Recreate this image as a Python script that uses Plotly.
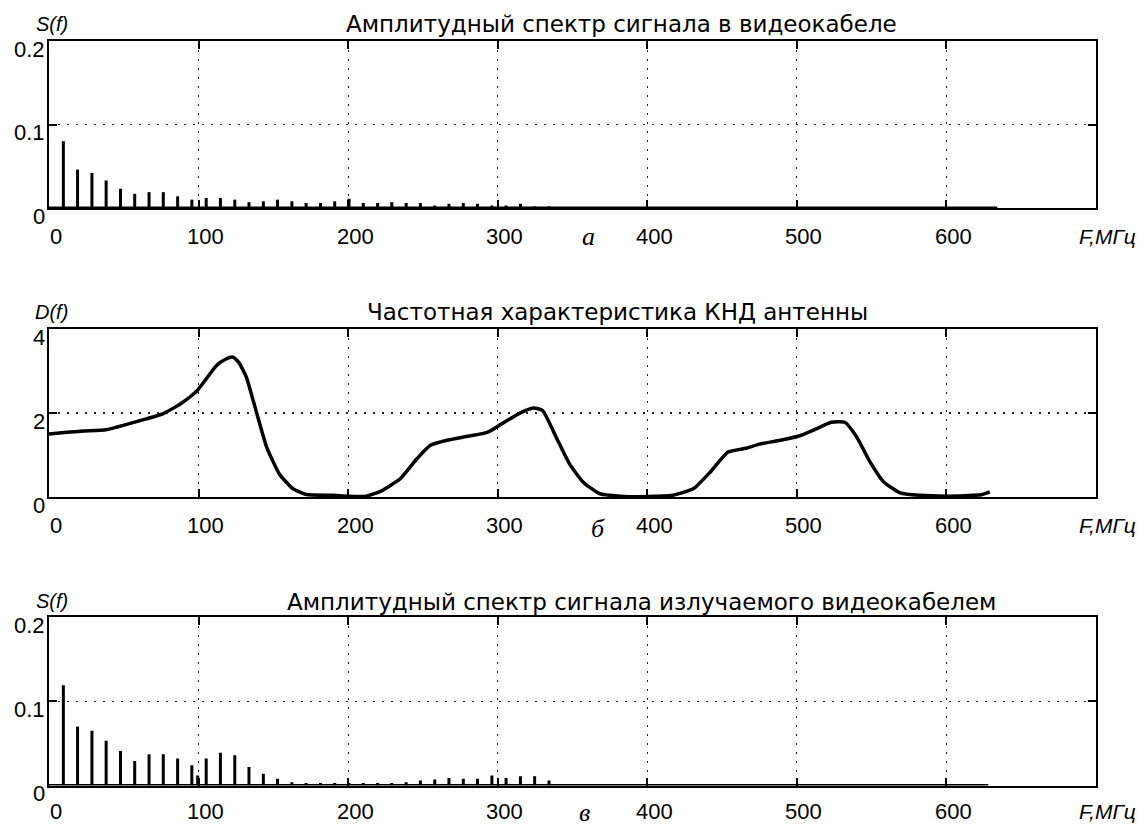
import plotly.graph_objects as go

W, H = 1146, 828

# ---------------- data ----------------
# harmonic frequencies (MHz) of the video signal spectrum
cable_freq = [9.6, 19.1, 28.7, 38.2, 47.8, 57.3, 66.9, 76.4, 86.0, 95.5,
              105.1, 114.6, 124.2, 133.7, 143.3, 152.8, 162.4, 171.9, 181.5, 191.0,
              200.6, 210.1, 219.7, 229.2, 238.8, 248.3, 257.9, 267.4, 277.0, 286.5,
              296.1, 305.6, 315.2, 324.7, 334.3]
cable_amp = [0.080, 0.046, 0.042, 0.033, 0.023, 0.017, 0.019, 0.019, 0.014, 0.010,
             0.012, 0.012, 0.010, 0.007, 0.008, 0.010, 0.008, 0.006, 0.006, 0.008,
             0.011, 0.006, 0.006, 0.007, 0.006, 0.006, 0.003, 0.005, 0.006, 0.005,
             0.003, 0.003, 0.005, 0.002, 0.002]
cable_end = 634

# antenna directivity D(f)
ant_freq = [0, 12, 23, 38, 52, 65, 76, 88, 99, 112, 118, 123, 127, 132, 139, 145.5,
            154, 163, 172, 190, 200, 212, 222, 235, 246, 255, 266, 279, 293, 299,
            310, 318, 324, 330, 339, 348, 357, 368, 382, 400, 417, 431, 442, 454,
            466, 475, 489, 503, 513, 523, 532, 540, 549, 558, 569, 582, 600, 618,
            624, 629]
ant_D = [1.50, 1.54, 1.57, 1.60, 1.73, 1.86, 1.98, 2.22, 2.53, 3.13, 3.28, 3.33,
         3.20, 2.85, 1.98, 1.19, 0.55, 0.20, 0.06, 0.04, 0.02, 0.02, 0.14, 0.44,
         0.91, 1.23, 1.35, 1.44, 1.54, 1.66, 1.90, 2.05, 2.12, 2.06, 1.43, 0.79,
         0.36, 0.08, 0.02, 0.01, 0.04, 0.20, 0.59, 1.07, 1.16, 1.26, 1.35, 1.47,
         1.62, 1.78, 1.78, 1.43, 0.83, 0.36, 0.10, 0.04, 0.02, 0.04, 0.06, 0.12]

# radiated spectrum
rad_freq = [9.6, 19.1, 28.7, 38.2, 47.8, 57.3, 66.9, 76.4, 86.0, 95.5, 99.4,
            105.1, 114.6, 124.2, 133.7, 143.3, 152.8, 162.4, 171.9, 181.5, 191.0,
            200.6, 210.1, 219.7, 229.2, 238.8, 248.3, 257.9, 267.4, 277.0, 286.5,
            296.1, 305.6, 315.2, 324.7, 334.3]
rad_amp = [0.119, 0.070, 0.065, 0.053, 0.041, 0.029, 0.037, 0.037, 0.032, 0.024, 0.012,
           0.032, 0.039, 0.036, 0.022, 0.014, 0.008, 0.004, 0.003, 0.003, 0.003,
           0.003, 0.003, 0.003, 0.003, 0.004, 0.006, 0.007, 0.009, 0.008, 0.008,
           0.012, 0.009, 0.011, 0.011, 0.006]
rad_end = 628

x_ticks = [0, 100, 200, 300, 400, 500, 600]
x_tick_text = ["0", "100", "200", "300", "400", "500", "600"]
s_ticks = [0, 0.1, 0.2]
s_tick_text = ["0", "0.1", "0.2"]
d_ticks = [0, 2, 4]
d_tick_text = ["0", "2", "4"]

titles = ["Амплитудный спектр сигнала в видеокабеле",
          "Частотная характеристика КНД антенны",
          "Амплитудный спектр сигнала излучаемого видеокабелем"]
y_names = ["S(f)", "D(f)", "S(f)"]
letters = ["а", "б", "в"]
x_name = "F,МГц"

# ---------------- figure ----------------
FONT = "Liberation Sans, Arial, sans-serif"
TFONT = "DejaVu Sans, Liberation Sans, sans-serif"
SERIF = "Liberation Serif, Times New Roman, serif"


def stems(freqs, amps):
    xs, ys = [], []
    for f, a in zip(freqs, amps):
        xs += [f, f, None]
        ys += [0, a, None]
    return xs, ys


fig = go.Figure()

xs, ys = stems(cable_freq, cable_amp)
fig.add_trace(go.Scatter(x=xs, y=ys, mode="lines", line=dict(color="black", width=3),
                         xaxis="x", yaxis="y", showlegend=False, hoverinfo="skip"))
fig.add_trace(go.Scatter(x=[0, cable_end], y=[0, 0], mode="lines",
                         line=dict(color="black", width=3), xaxis="x", yaxis="y",
                         showlegend=False, hoverinfo="skip"))

fig.add_trace(go.Scatter(x=ant_freq, y=ant_D, mode="lines",
                         line=dict(color="black", width=3.5, shape="spline", smoothing=0.5),
                         xaxis="x2", yaxis="y2", showlegend=False))

xs, ys = stems(rad_freq, rad_amp)
fig.add_trace(go.Scatter(x=xs, y=ys, mode="lines", line=dict(color="black", width=3),
                         xaxis="x3", yaxis="y3", showlegend=False, hoverinfo="skip"))
fig.add_trace(go.Scatter(x=[0, rad_end], y=[0, 0], mode="lines",
                         line=dict(color="black", width=3), xaxis="x3", yaxis="y3",
                         showlegend=False, hoverinfo="skip"))

# panel geometry in pixels: (top, bottom)
panels = [(41, 208), (329, 497), (617, 785.5)]
x_left, x_right = 49, 1096
label_drop = [28, 28, 26]

axis_common = dict(showline=True, linecolor="black", linewidth=2, mirror="ticks",
                   ticks="inside", ticklen=8, tickwidth=2, tickcolor="black",
                   showgrid=True, gridcolor="#222", gridwidth=1.2, griddash="1.5px,7.5px",
                   zeroline=False, showticklabels=False, fixedrange=True)

layout = dict(width=W, height=H, margin=dict(l=0, r=0, t=0, b=0),
              paper_bgcolor="white", plot_bgcolor="white", showlegend=False)

yranges = [[0, 0.2], [0, 4], [0, 0.2]]
yticks = [s_ticks, d_ticks, s_ticks]
ytexts = [s_tick_text, d_tick_text, s_tick_text]
yname_pos = [(52, 24), (51, 312), (52, 601)]

annotations = []
for i, (ptop, pbot) in enumerate(panels):
    sfx = "" if i == 0 else str(i + 1)
    layout["xaxis" + sfx] = dict(axis_common, domain=[x_left / W, x_right / W],
                                 range=[0, 700], tickvals=x_ticks,
                                 anchor="y" + sfx)
    layout["yaxis" + sfx] = dict(axis_common, domain=[1 - pbot / H, 1 - ptop / H],
                                 range=yranges[i], tickvals=yticks[i],
                                 anchor="x" + sfx)
    xr, yr = "x" + sfx, "y" + sfx
    # x tick labels
    for v, t in zip(x_ticks, x_tick_text):
        annotations.append(dict(x=v, y=0, xref=xr, yref=yr + " domain", text=t,
                                showarrow=False, xanchor="center", yanchor="middle",
                                xshift=7, yshift=-label_drop[i],
                                font=dict(family=FONT, size=22, color="black")))
    # y tick labels
    for v, t in zip(yticks[i], ytexts[i]):
        annotations.append(dict(x=0, y=v, xref=xr + " domain", yref=yr, text=t,
                                showarrow=False, xanchor="right", yanchor="middle",
                                xshift=-2, yshift=-8,
                                font=dict(family=FONT, size=22, color="black")))
    # axis name (x)
    annotations.append(dict(x=1107 / W, y=0, xref="paper", yref=yr + " domain",
                            text="<i>" + x_name + "</i>", showarrow=False,
                            xanchor="center", yanchor="middle", yshift=-label_drop[i],
                            font=dict(family=FONT, size=21, color="black")))
    # y name
    px, py = yname_pos[i]
    annotations.append(dict(x=px / W, y=1 - py / H, xref="paper", yref="paper",
                            text="<i>" + y_names[i] + "</i>", showarrow=False,
                            xanchor="center", yanchor="middle",
                            font=dict(family=FONT, size=20, color="black")))

title_pos = [(621, 24), (617, 312), (641, 602)]
for t, (px, py) in zip(titles, title_pos):
    annotations.append(dict(x=px / W, y=1 - py / H, xref="paper", yref="paper", text=t,
                            showarrow=False, xanchor="center", yanchor="middle",
                            font=dict(family=TFONT, size=23, color="black")))

letter_pos = [(588, 237), (598, 528), (584, 812)]
for t, (px, py) in zip(letters, letter_pos):
    annotations.append(dict(x=px / W, y=1 - py / H, xref="paper", yref="paper",
                            text="<i>" + t + "</i>", showarrow=False,
                            xanchor="center", yanchor="middle",
                            font=dict(family=SERIF, size=26, color="black")))

layout["annotations"] = annotations
fig.update_layout(**layout)

fig.write_html("out.html",
               config={"displayModeBar": False, "staticPlot": True},
               post_script="document.body.style.margin='0';"
                           "document.body.style.overflow='hidden';")
